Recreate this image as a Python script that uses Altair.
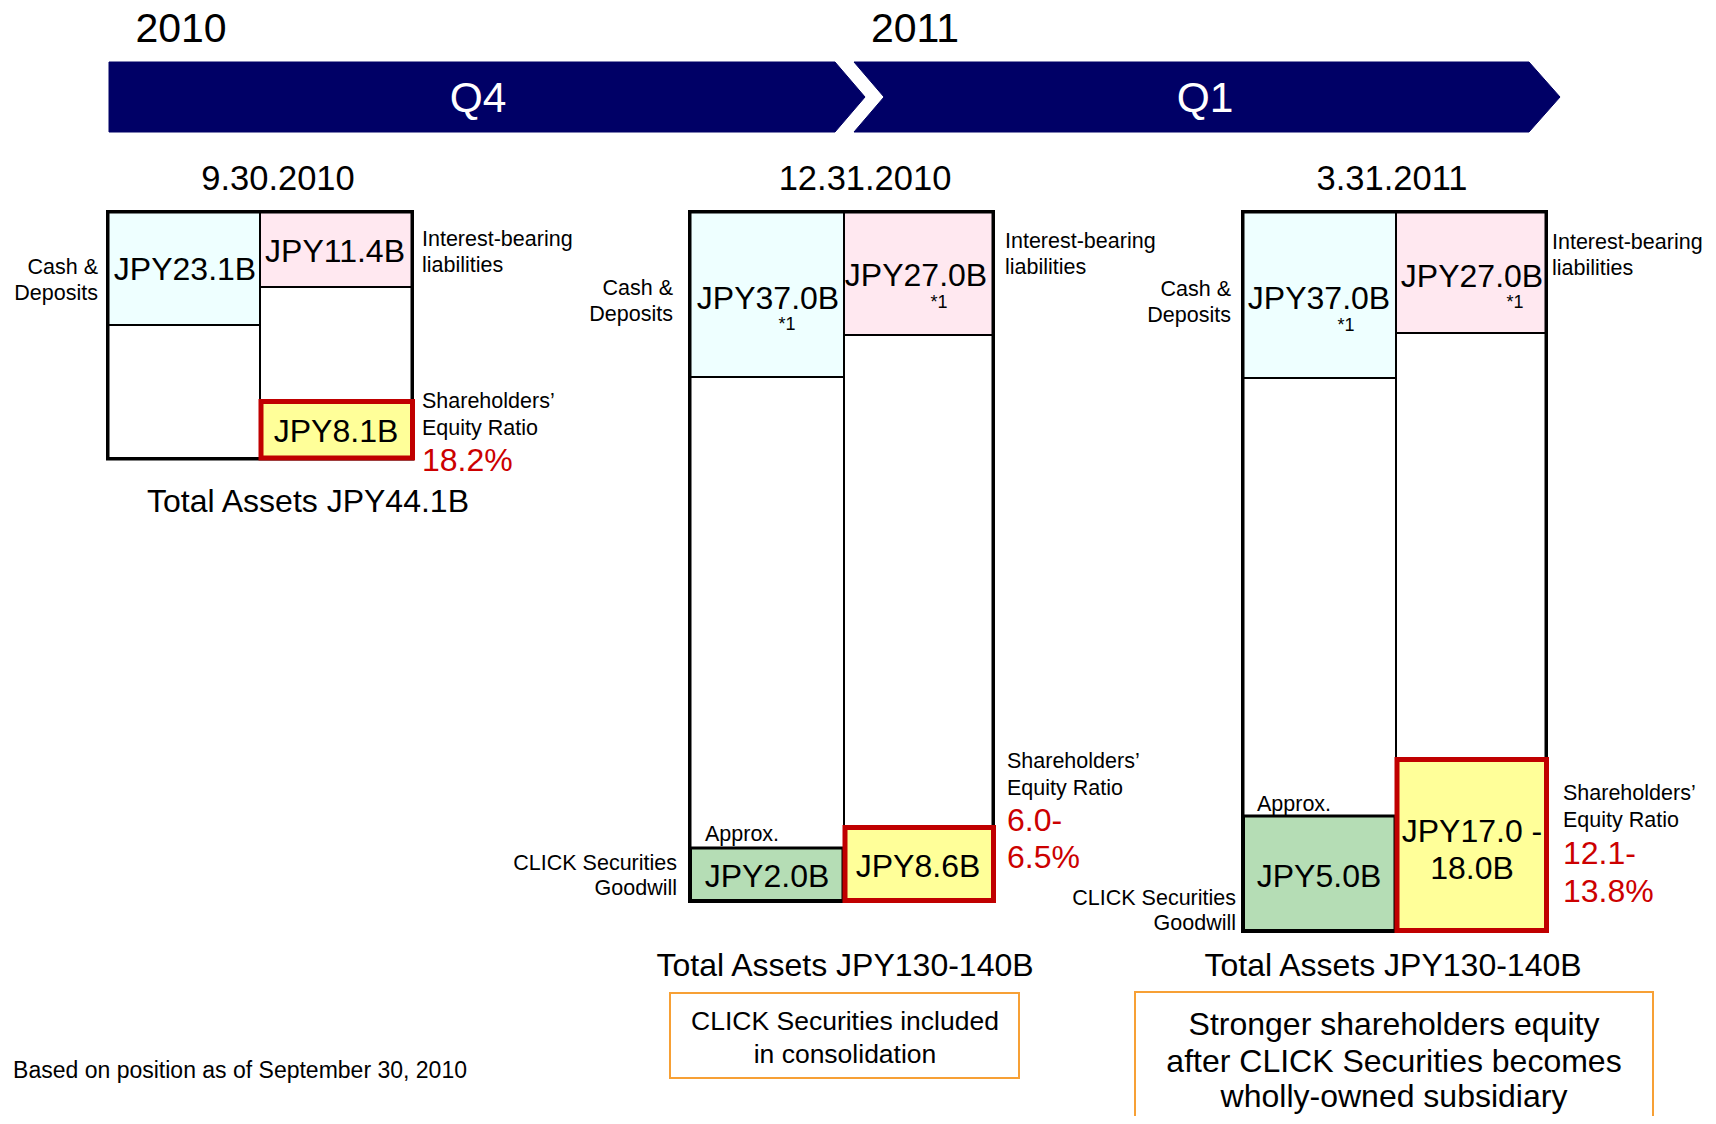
import altair as alt
import pandas as pd

# ---------------- data (text values) ----------------
years = ["2010", "2011"]
quarters = ["Q4", "Q1"]
dates = ["9.30.2010", "12.31.2010", "3.31.2011"]
cash_vals = ["JPY23.1B", "JPY37.0B", "JPY37.0B"]
debt_vals = ["JPY11.4B", "JPY27.0B", "JPY27.0B"]
equity_vals = [["JPY8.1B"], ["JPY8.6B"], ["JPY17.0 -", "18.0B"]]
goodwill_vals = [None, "JPY2.0B", "JPY5.0B"]
ratio_vals = [["18.2%"], ["6.0-", "6.5%"], ["12.1-", "13.8%"]]
total_vals = ["Total Assets JPY44.1B", "Total Assets JPY130-140B", "Total Assets JPY130-140B"]
notes = [None, ["CLICK Securities included", "in consolidation"],
         ["Stronger shareholders equity", "after CLICK Securities becomes", "wholly-owned subsidiary"]]
footnote = "Based on position as of September 30, 2010"

# ---------------- layout (pixel geometry of the schematic) ----------------
NAVY, RED, TXT_RED = "#000066", "#C00000", "#CC0000"
CYAN, PINK, YEL, GRN, ORANGE = "#EEFFFF", "#FFE8F0", "#FFFF99", "#B5DDB5", "#F7A035"

outer = [(108.5, 411.5, 212.5, 458), (690.5, 992.5, 212.5, 900.5), (1243.5, 1545.5, 212.5, 930.5)]
divx = [260, 844, 1396]
cash_bot = [325, 377, 378]
debt_bot = [287, 335, 333]
gw_top = [None, 848, 816]
eq_top = [401.5, 827.5, 759.5]

rects = []
for i in range(3):
    x0, x1, y0, y1 = outer[i]
    rects.append((x0, x1, y0, y1, "white", "black", 5))
    rects.append((x0, divx[i], y0, cash_bot[i], CYAN, "black", 2))
    rects.append((x0, divx[i], cash_bot[i], y1, "white", "black", 2))
    rects.append((divx[i], x1, y0, debt_bot[i], PINK, "black", 2))
    rects.append((divx[i], x1, debt_bot[i], y1, "white", "black", 2))
    if gw_top[i] is not None:
        rects.append((x0, divx[i] - 1, gw_top[i], y1, GRN, "black", 3))
for i in range(3):
    x0, x1, y0, y1 = outer[i]
    rects.append((divx[i] + 1, x1 + 1, eq_top[i], y1, YEL, RED, 5))
rects.append((670, 1019, 993, 1078, "white", ORANGE, 2))
rects.append((1135, 1653, 992, 1140, "white", ORANGE, 2))
rect_df = pd.DataFrame(rects, columns=["x", "x2", "y", "y2", "fill", "stroke", "sw"])

arrow_rows = []
top, mid, bot = 62, 97, 132
for piece, pts in {
    "q4": [(109, top, bot), (835, top, bot), (865, mid, mid)],
    "q1t": [(854, top, top), (884, top, mid), (1529, top, mid), (1560, mid, mid)],
    "q1b": [(854, bot, bot), (884, mid, bot), (1529, mid, bot), (1560, mid, mid)],
}.items():
    for (x, yt, yb) in pts:
        arrow_rows.append((piece, x, yt, yb))
arrow_df = pd.DataFrame(arrow_rows, columns=["piece", "x", "yt", "yb"])

# texts
DY = 2
center, left, right = [], [], []
BIG, LAB, PCT = 32, 21.5, 32
center += [(181, 28, years[0], 41, "black"), (915, 28, years[1], 41, "black"),
           (478, 97, quarters[0], 42.5, "white"), (1205, 97, quarters[1], 42.5, "white")]
date_x = [278, 865, 1392]
for i in range(3):
    center.append((date_x[i], 178, dates[i], 34.5, "black"))
cash_pos = [(185, 268), (768, 297), (1319, 297)]
debt_pos = [(335, 250), (916, 274), (1472, 275)]
for i in range(3):
    center.append((*cash_pos[i], cash_vals[i], BIG, "black"))
    center.append((*debt_pos[i], debt_vals[i], BIG, "black"))
star_pos = [[], [(787, 323), (939, 301)], [(1346, 324), (1515, 301)]]
for i in range(3):
    for p in star_pos[i]:
        center.append((*p, "*1", 18, "black"))
eq_pos = [[(336, 430)], [(918, 865)], [(1472, 830), (1472, 867)]]
for i in range(3):
    for p, t in zip(eq_pos[i], equity_vals[i]):
        center.append((*p, t, BIG, "black"))
gw_pos = [None, (767, 875), (1319, 875)]
for i in range(3):
    if goodwill_vals[i]:
        center.append((*gw_pos[i], goodwill_vals[i], BIG, "black"))
tot_pos = [(308, 500), (845, 964), (1393, 964)]
for i in range(3):
    center.append((*tot_pos[i], total_vals[i], BIG, "black"))
note_pos = [None, [(845, 1020), (845, 1053)], [(1394, 1023), (1394, 1060), (1394, 1095)]]
note_size = [None, 26.5, 32]
for i in range(3):
    if notes[i]:
        for p, t in zip(note_pos[i], notes[i]):
            center.append((*p, t, note_size[i], "black"))

cashlab_pos = [(98, 266), (673, 287), (1231, 288)]
for (x, y) in cashlab_pos:
    right.append((x, y, "Cash &", LAB, "black"))
    right.append((x, y + 26, "Deposits", LAB, "black"))
gwlab_pos = [None, (677, 862), (1236, 897)]
for i in range(3):
    if gwlab_pos[i]:
        x, y = gwlab_pos[i]
        right.append((x, y, "CLICK Securities", LAB, "black"))
        right.append((x, y + 25, "Goodwill", LAB, "black"))
right.append((467, 1069, footnote, 23, "black"))

iblab_pos = [(422, 238), (1005, 240), (1552, 241)]
for (x, y) in iblab_pos:
    left.append((x, y, "Interest-bearing", LAB, "black"))
    left.append((x, y + 26, "liabilities", LAB, "black"))
shlab_pos = [(422, 400), (1007, 760), (1563, 792)]
ratio_ys = [[459], [819, 856], [852, 890]]
for i, (x, y) in enumerate(shlab_pos):
    left.append((x, y, "Shareholders\u2019", LAB, "black"))
    left.append((x, y + 27, "Equity Ratio", LAB, "black"))
    for yy, t in zip(ratio_ys[i], ratio_vals[i]):
        left.append((x, yy, t, PCT, TXT_RED))
approx_pos = [None, (705, 833), (1257, 803)]
for p in approx_pos:
    if p:
        left.append((*p, "Approx.", LAB, "black"))

cols = ["x", "y", "text", "size", "color"]

xs = alt.Scale(domain=[8, 1708], nice=False, zero=False)
ys = alt.Scale(domain=[8, 1116], nice=False, zero=False, reverse=True)

rect_layer = alt.Chart(rect_df).mark_rect().encode(
    x=alt.X("x:Q", scale=xs, axis=None), x2="x2:Q",
    y=alt.Y("y:Q", scale=ys, axis=None), y2="y2:Q",
    fill=alt.Fill("fill:N", scale=None),
    stroke=alt.Stroke("stroke:N", scale=None),
    strokeWidth=alt.StrokeWidth("sw:Q", scale=None),
)

arrow_layer = alt.Chart(arrow_df).mark_area(color=NAVY, stroke=NAVY, strokeWidth=1, opacity=1).encode(
    x=alt.X("x:Q", scale=xs, axis=None),
    y=alt.Y("yt:Q", scale=ys, axis=None, stack=None), y2="yb:Q",
    detail="piece:N",
)

def text_layer(rows, align):
    df = pd.DataFrame(rows, columns=cols)
    df["y"] = df["y"] + DY
    return alt.Chart(df).mark_text(align=align, baseline="middle", font="Liberation Sans").encode(
        x=alt.X("x:Q", scale=xs, axis=None),
        y=alt.Y("y:Q", scale=ys, axis=None),
        text="text:N",
        size=alt.Size("size:Q", scale=None),
        color=alt.Color("color:N", scale=None),
    )

chart = alt.layer(
    rect_layer, arrow_layer,
    text_layer(center, "center"), text_layer(left, "left"), text_layer(right, "right"),
).properties(
    width=1700, height=1108, padding=0,
    autosize=alt.AutoSizeParams(type="none"),
    background="white",
).configure_view(stroke=None)

chart.save("out.html", embed_options={"renderer": "svg", "actions": False})
